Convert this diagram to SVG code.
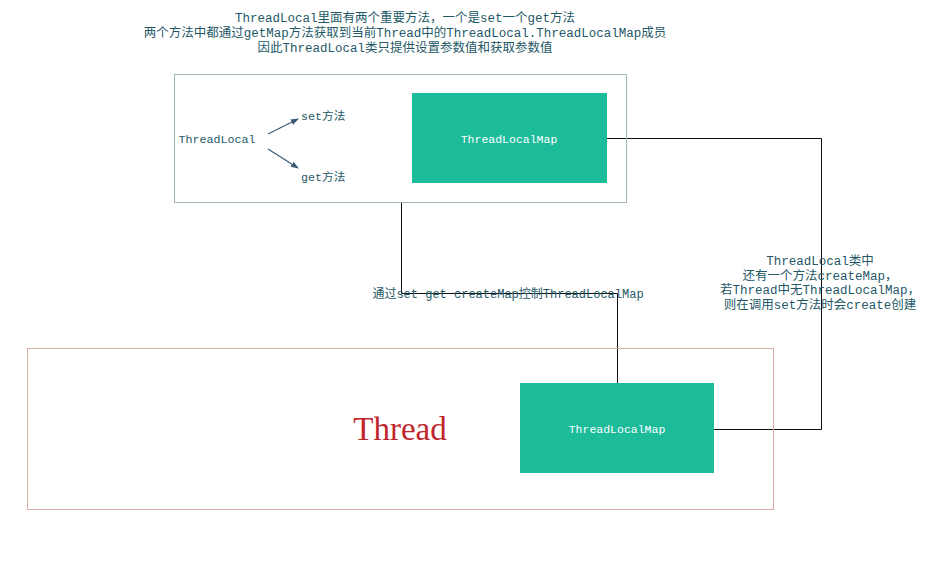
<svg xmlns="http://www.w3.org/2000/svg" width="941" height="562" viewBox="0 0 941 562">
<style>
.t{font-family:"Liberation Mono","Noto Sans CJK SC",monospace;fill:#245866;font-size:12.5px;text-anchor:middle}
.w{font-family:"Liberation Mono","Noto Sans CJK SC",monospace;fill:#ffffff;font-size:11.5px;text-anchor:middle}
.map{fill:#1cbc9b}
.conn{fill:none;stroke:#111111;stroke-width:1}
.arr{stroke:#3a5a78;stroke-width:1.2;marker-end:url(#ah)}
</style>
<defs>
<marker id="ah" markerWidth="8" markerHeight="8" refX="7" refY="4" orient="auto" markerUnits="userSpaceOnUse">
<path d="M0,1 L8,4 L0,7 Z" fill="#3a5a78"/>
</marker>
</defs>
<rect width="941" height="562" fill="#ffffff"/>
<g id="title">
<text class="t" x="405" y="22">ThreadLocal里面有两个重要方法，一个是set一个get方法</text>
<text class="t" x="405" y="37">两个方法中都通过getMap方法获取到当前Thread中的ThreadLocal.ThreadLocalMap成员</text>
<text class="t" x="405" y="52">因此ThreadLocal类只提供设置参数值和获取参数值</text>
</g>
<g id="connectors">
<polyline class="conn" points="401.5,202 401.5,293.5 617.5,293.5 617.5,383"/>
<polyline class="conn" points="607,138.5 821.5,138.5 821.5,429.5 714,429.5"/>
<line class="arr" x1="268" y1="134" x2="298" y2="119"/>
<line class="arr" x1="268" y1="149" x2="298" y2="168"/>
</g>
<g id="threadlocal-box">
<rect x="174.5" y="74.5" width="452" height="128" fill="none" stroke="#9db5b7" stroke-width="1"/>
<text class="t" x="217" y="143" style="font-size:11.7px">ThreadLocal</text>
</g>
<g id="set-method"><text class="t" x="301" y="120" style="text-anchor:start;font-size:11.7px">set方法</text></g>
<g id="get-method"><text class="t" x="301" y="181" style="text-anchor:start;font-size:11.7px">get方法</text></g>
<g id="tlmap-top">
<rect class="map" x="412" y="93" width="195" height="90"/>
<text class="w" x="509" y="143">ThreadLocalMap</text>
</g>
<g id="thread-box">
<rect x="27.5" y="348.5" width="746" height="161" fill="none" stroke="#d9aca5" stroke-width="1"/>
<text x="400" y="440" font-family="Liberation Serif, serif" font-size="33" fill="#c0262d" text-anchor="middle">Thread</text>
</g>
<g id="tlmap-bottom">
<rect class="map" x="520" y="383" width="194" height="90"/>
<text class="w" x="617" y="433">ThreadLocalMap</text>
</g>
<g id="mid-label">
<text class="t" x="508" y="298" style="font-size:12px">通过set get createMap控制ThreadLocalMap</text>
</g>
<g id="right-label">
<text class="t" x="820" y="265">ThreadLocal类中</text>
<text class="t" x="820" y="280">还有一个方法createMap，</text>
<text class="t" x="820" y="294">若Thread中无ThreadLocalMap，</text>
<text class="t" x="820" y="309">则在调用set方法时会create创建</text>
</g>
</svg>
